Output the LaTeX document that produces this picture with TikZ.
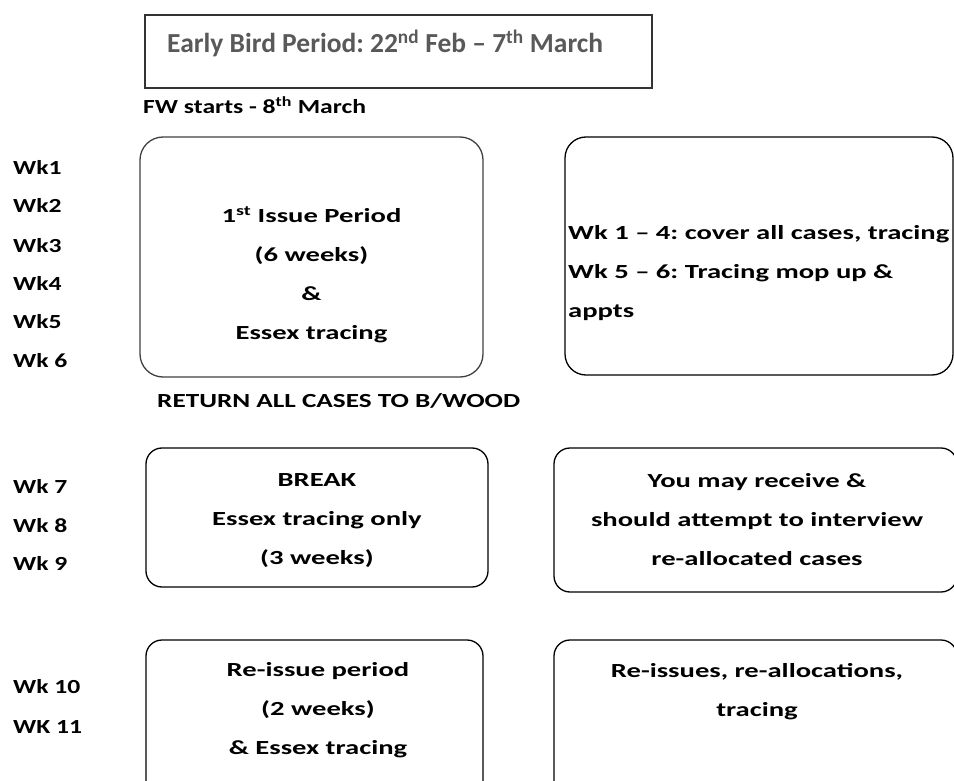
\documentclass[tikz,border=0pt]{standalone}
\usepackage{fontspec}
\setmainfont{Carlito}
\newfontfamily\boxfont{Carlito}[Ligatures=TeX, FakeStretch=1.43]
\newfontfamily\wkfont{Carlito}[Ligatures=TeX, FakeStretch=1.28]
\newfontfamily\retfont{Carlito}[Ligatures=TeX, FakeStretch=1.36]
\definecolor{titlegray}{HTML}{595959}
\frenchspacing
\begin{document}
\begin{tikzpicture}[x=1pt, y=-1pt,
  every node/.style={inner sep=0pt, font=\boxfont\bfseries\fontsize{20}{38.7}\selectfont},
  periodbox/.style={draw, line width=1.3pt, rounded corners=16pt},
  wklabel/.style={anchor=base west, font=\wkfont\bfseries\fontsize{20}{24}\selectfont},
  boxtext/.style={align=center, anchor=base}]
\useasboundingbox (0,0) rectangle (954,781);
% early bird
\node[draw=black!80, line width=1.3pt, minimum width=507, minimum height=73] (early) at (398.5,51.5) {};
\node[anchor=base west, text=titlegray, font=\bfseries\fontsize{27.5}{30}\selectfont] (earlytxt) at (167,53) {Early Bird Period: 22\textsuperscript{nd} Feb -- 7\textsuperscript{th} March};
\node[wklabel] (fw) at (143,114) {FW starts - 8\textsuperscript{th} March};
% first issue
\node[periodbox, draw=black!75, rounded corners=23pt, minimum width=343, minimum height=240] (issue) at (311.5,257) {};
\node[periodbox, rounded corners=21pt, minimum width=388, minimum height=238] (cover) at (759,256) {};
\node[boxtext] (issuetxt) at (issue.center |- 0,339) {1\textsuperscript{st} Issue Period\\(6 weeks)\\\&\\Essex tracing};
\node[anchor=base west, align=left] (covertxt) at (568,317) {Wk 1 -- 4: cover all cases, tracing\\Wk 5 -- 6: Tracing mop up \&\\appts};
\node[anchor=base west, font=\retfont\bfseries\fontsize{20}{24}\selectfont] (ret) at (157,407) {RETURN ALL CASES TO B/WOOD};
% break
\node[periodbox, minimum width=342, minimum height=139] (brk) at (317,517.5) {};
\node[periodbox, minimum width=403, minimum height=144] (recv) at (755.5,520) {};
\node[boxtext] (brktxt) at (brk.center |- 0,564) {BREAK\\Essex tracing only\\(3 weeks)};
\node[boxtext] (recvtxt) at (757,565) {You may receive \&\\should attempt to interview\\re-allocated cases};
% re-issue
\node[periodbox, minimum width=337, minimum height=160] (reiss) at (314.5,720) {};
\node[periodbox, minimum width=403, minimum height=160] (realloc) at (755.5,720) {};
\node[boxtext] (reisstxt) at (318,754) {Re-issue period\\(2 weeks)\\\& Essex tracing};
\node[boxtext] (realloctxt) at (757,716) {Re-issues, re-allocations,\\tracing};
% week labels
\foreach \n/\t/\y in {1/Wk1/175, 2/Wk2/213, 3/Wk3/252, 4/Wk4/290, 5/Wk5/328, 6/Wk 6/367,
                      7/Wk 7/493, 8/Wk 8/532, 9/Wk 9/570, 10/Wk 10/693, 11/WK 11/733}
  \node[wklabel] (wk\n) at (13,\y) {\t};
\end{tikzpicture}
\end{document}
